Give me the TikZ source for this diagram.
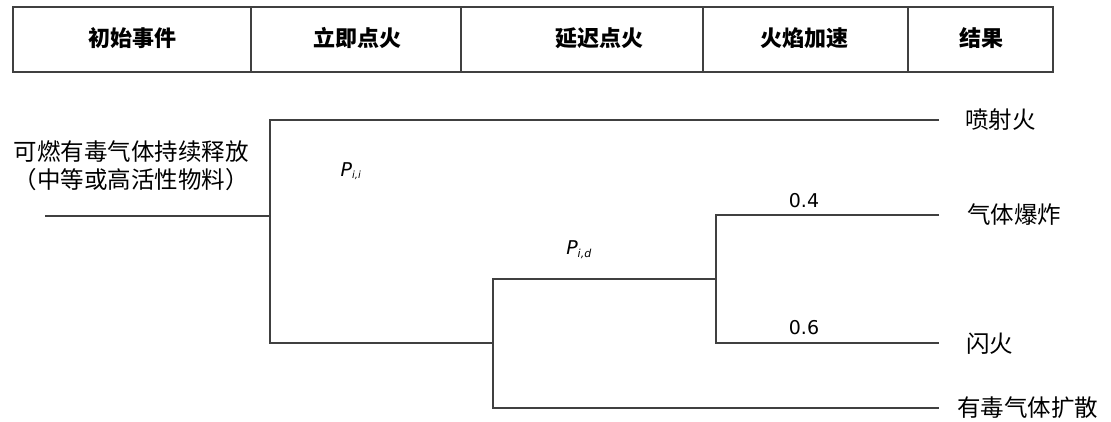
\documentclass[tikz,border=0pt]{standalone}
\usepackage{fontspec}
\setmainfont{Noto Sans CJK SC}
\newfontfamily\numfont{DejaVu Sans}
\tikzset{
    cell/.style={draw=black!75, line width=1.6pt, minimum height=65pt, inner sep=0pt, anchor=north west},
    head/.style={font=\fontsize{22pt}{26pt}\selectfont\bfseries, inner sep=0pt},
    branch/.style={draw=black!75, line width=1.8pt},
    outcome/.style={anchor=west, inner sep=0pt, font=\fontsize{23.5pt}{28pt}\selectfont},
    prob/.style={inner sep=0pt, font=\numfont\fontsize{19pt}{22pt}\selectfont}
}
\begin{document}
\begin{tikzpicture}[x=1pt, y=-1pt]
    \useasboundingbox (0,0) rectangle (1111,421);

    % header row
    \node[cell, minimum width=238pt] (c1) at (12,6) {};
    \node[cell, minimum width=210pt] (c2) at (250,6) {};
    \node[cell, minimum width=242pt] (c3) at (460,6) {};
    \node[cell, minimum width=205pt] (c4) at (702,6) {};
    \node[cell, minimum width=145pt] (c5) at (907,6) {};
    \node[head] (h1) at (132,38) {初始事件};
    \node[head] (h2) at (357,38) {立即点火};
    \node[head] (h3) at (599,38) {延迟点火};
    \node[head] (h4) at (804,38) {火焰加速};
    \node[head] (h5) at (981,38) {结果};

    % initial event
    \node[align=center, inner sep=0pt, font=\fontsize{23.5pt}{28pt}\selectfont] (init) at (131,166)
        {可燃有毒气体持续释放\\（中等或高活性物料）};
    \coordinate (start) at (45,216);
    \coordinate (ig) at (270,216);
    \coordinate (dl) at (493,279);
    \coordinate (fa) at (716,279);

    % outcomes
    \coordinate (eJet) at (939,120);
    \coordinate (eExp) at (939,215);
    \coordinate (eFlash) at (939,343);
    \coordinate (eTox) at (939,408);
    \node[outcome] (jet) at (965,120) {喷射火};
    \node[outcome] (exp) at (967,215) {气体爆炸};
    \node[outcome] (flash) at (966,344) {闪火};
    \node[outcome] (tox) at (957,408) {有毒气体扩散};

    % tree
    \draw[branch] (start) -- (ig);
    \draw[branch] (eJet) -- (ig |- eJet) -- (ig |- eFlash) -- (dl |- eFlash);
    \draw[branch] (fa) -- (dl) -- (dl |- eTox) -- (eTox);
    \draw[branch] (eExp) -- (fa |- eExp) -- (fa |- eFlash) -- (eFlash);

    % probabilities
    \node[prob] (pii) at (351,171) {\itshape P\textsubscript{\fontsize{10pt}{12pt}\selectfont i,i}};
    \node[prob] (pid) at (579,250) {\itshape P\textsubscript{\fontsize{11pt}{12pt}\selectfont i,d}};
    \node[prob] (p4) at (804,201) {0.4};
    \node[prob] (p6) at (804,328) {0.6};
\end{tikzpicture}
\end{document}
